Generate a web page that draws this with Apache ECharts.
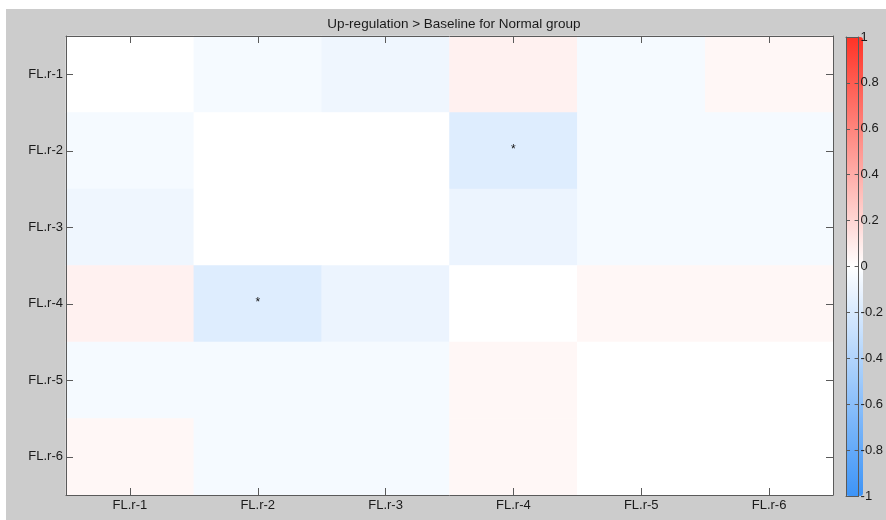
<!DOCTYPE html>
<html>
<head>
<meta charset="utf-8">
<script src="https://cdn.jsdelivr.net/npm/echarts@6/dist/echarts.min.js"></script>
<style>
  html, body { margin: 0; padding: 0; background: #ffffff; }
  #chart { width: 886px; height: 520px; }
</style>
</head>
<body>
<div id="chart"></div>
<script>
// Region labels (same set on both axes)
const regions = ['FL.r-1', 'FL.r-2', 'FL.r-3', 'FL.r-4', 'FL.r-5', 'FL.r-6'];

// Correlation differences, one row per region (row = y, column = x)
const row1 = [ 0.00, -0.05, -0.08,  0.07, -0.05,  0.04];
const row2 = [-0.05,  0.00,  0.00, -0.17, -0.05, -0.05];
const row3 = [-0.08,  0.00,  0.00, -0.10, -0.05, -0.05];
const row4 = [ 0.07, -0.17, -0.10,  0.00,  0.04,  0.04];
const row5 = [-0.05, -0.05, -0.05,  0.04,  0.00,  0.00];
const row6 = [ 0.04, -0.05, -0.05,  0.04,  0.00,  0.00];
const rows = [row1, row2, row3, row4, row5, row6];

// Significant cells as [column, row]
const significant = [[3, 1], [1, 3]];

// Colour scale range and colorbar tick step
const scaleMin = -1;
const scaleMax = 1;
const scaleStep = 0.2;

const cells = [];
rows.forEach((r, yi) => r.forEach((v, xi) => cells.push([xi, yi, v])));
const isSig = (x, y) => significant.some(s => s[0] === x && s[1] === y);

const font = 'Liberation Sans, Arial, sans-serif';
const textColor = '#1a1a1a';
const frameColor = '#5a5a5a';
const labelSize = 13;

const plot = { left: 66, top: 36, width: 767, height: 459 };
const bar = { left: 846, top: 37, width: 17, height: 459 };

const chart = echarts.init(document.getElementById('chart'), null, { renderer: 'canvas' });

const catAxisBase = {
  type: 'category',
  data: regions,
  gridIndex: 0,
  z: 5,
  axisLine: { show: true, onZero: false, lineStyle: { color: frameColor, width: 1 } },
  axisTick: { show: true, inside: true, alignWithLabel: true, length: 7, lineStyle: { color: frameColor } },
  splitLine: { show: false },
  splitArea: { show: false }
};

const barAxisBase = {
  gridIndex: 1,
  z: 10,
  axisLine: { show: true, onZero: false, lineStyle: { color: frameColor, width: 1 } },
  splitLine: { show: false }
};

chart.setOption({
  backgroundColor: 'transparent',
  animation: false,
  title: {
    text: 'Up-regulation > Baseline for Normal group',
    left: 449,
    top: 12,
    textAlign: 'center',
    textStyle: { fontFamily: font, fontSize: 13.5, fontWeight: 'normal', color: textColor }
  },
  graphic: [{
    type: 'rect',
    z: -10,
    silent: true,
    shape: { x: 6, y: 9, width: 880, height: 511 },
    style: { fill: '#cccccc' }
  }],
  grid: [
    Object.assign({ show: true, backgroundColor: '#ffffff', borderWidth: 0 }, plot),
    Object.assign({ show: false }, bar)
  ],
  xAxis: [
    Object.assign({}, catAxisBase, {
      position: 'bottom',
      axisLabel: { show: true, margin: 4, fontFamily: font, fontSize: labelSize, color: textColor }
    }),
    Object.assign({}, catAxisBase, {
      position: 'top',
      axisLabel: { show: false }
    }),
    Object.assign({}, barAxisBase, {
      type: 'value', min: 0, max: 1, position: 'bottom',
      axisTick: { show: false }, axisLabel: { show: false }
    }),
    Object.assign({}, barAxisBase, {
      type: 'value', min: 0, max: 1, position: 'top',
      axisTick: { show: false }, axisLabel: { show: false }
    })
  ],
  yAxis: [
    Object.assign({}, catAxisBase, {
      position: 'left',
      inverse: true,
      axisLabel: { show: true, margin: 3, fontFamily: font, fontSize: labelSize, color: textColor }
    }),
    Object.assign({}, catAxisBase, {
      position: 'right',
      inverse: true,
      axisLabel: { show: false }
    }),
    Object.assign({}, barAxisBase, {
      type: 'value', min: scaleMin, max: scaleMax, interval: scaleStep, position: 'left',
      axisTick: { show: true, inside: true, length: 4, lineStyle: { color: frameColor } },
      axisLabel: { show: false }
    }),
    Object.assign({}, barAxisBase, {
      type: 'value', min: scaleMin, max: scaleMax, interval: scaleStep, position: 'right',
      axisTick: { show: true, inside: true, length: 4, lineStyle: { color: frameColor } },
      axisLabel: {
        show: true, margin: 2, fontFamily: font, fontSize: labelSize, color: textColor,
        formatter: v => String(Math.round(v * 10) / 10)
      }
    })
  ],
  visualMap: {
    type: 'continuous',
    min: scaleMin,
    max: scaleMax,
    seriesIndex: 0,
    calculable: false,
    hoverLink: false,
    realtime: false,
    orient: 'vertical',
    left: bar.left,
    top: bar.top,
    itemWidth: bar.width,
    itemHeight: bar.height,
    padding: 0,
    text: null,
    showLabel: false,
    inRange: { color: ['#3d94f7', '#ffffff', '#ff3326'] }
  },
  series: [{
    type: 'heatmap',
    xAxisIndex: 0,
    yAxisIndex: 0,
    data: cells,
    itemStyle: { borderWidth: 0 },
    emphasis: { disabled: true },
    label: {
      show: true,
      fontFamily: font,
      fontSize: 12,
      color: '#111111',
      offset: [0, -1],
      formatter: p => isSig(p.data[0], p.data[1]) ? '*' : ''
    }
  }]
});
</script>
</body>
</html>
